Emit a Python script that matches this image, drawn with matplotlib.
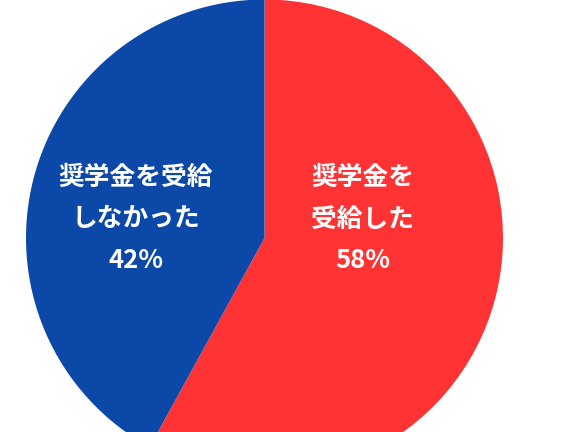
import matplotlib.pyplot as plt

plt.rcParams['font.family'] = ['Noto Sans CJK JP', 'DejaVu Sans']

labels = ["奨学金を\n受給した", "奨学金を受給\nしなかった"]
shares = [58, 42]
colors = ["#FF3333", "#0C48A8"]

fig = plt.figure(figsize=(5.76, 4.32), dpi=100)
ax = fig.add_axes([0, 0, 1, 1])

# pixel-like coordinates: y grows upward, image height 432
cx, cy, r = 264.5, 432 - 238, 238.5
wedges, _ = ax.pie(shares, colors=colors, startangle=90, counterclock=False,
                   center=(cx, cy), radius=r, wedgeprops=dict(linewidth=0))

ax.set_xlim(0, 576)
ax.set_ylim(0, 432)
ax.set_aspect("equal")
ax.axis("off")

# label positions (pixel centres of text block)
label_pos = [(363, 432 - 219), (136, 432 - 219)]
for lab, pct, (x, y) in zip(labels, shares, label_pos):
    ax.text(x, y, f"{lab}\n{pct}%", ha="center", va="center", color="white",
            fontsize=18.5, fontweight="bold", linespacing=1.7)

fig.savefig("out.png", dpi=100)
